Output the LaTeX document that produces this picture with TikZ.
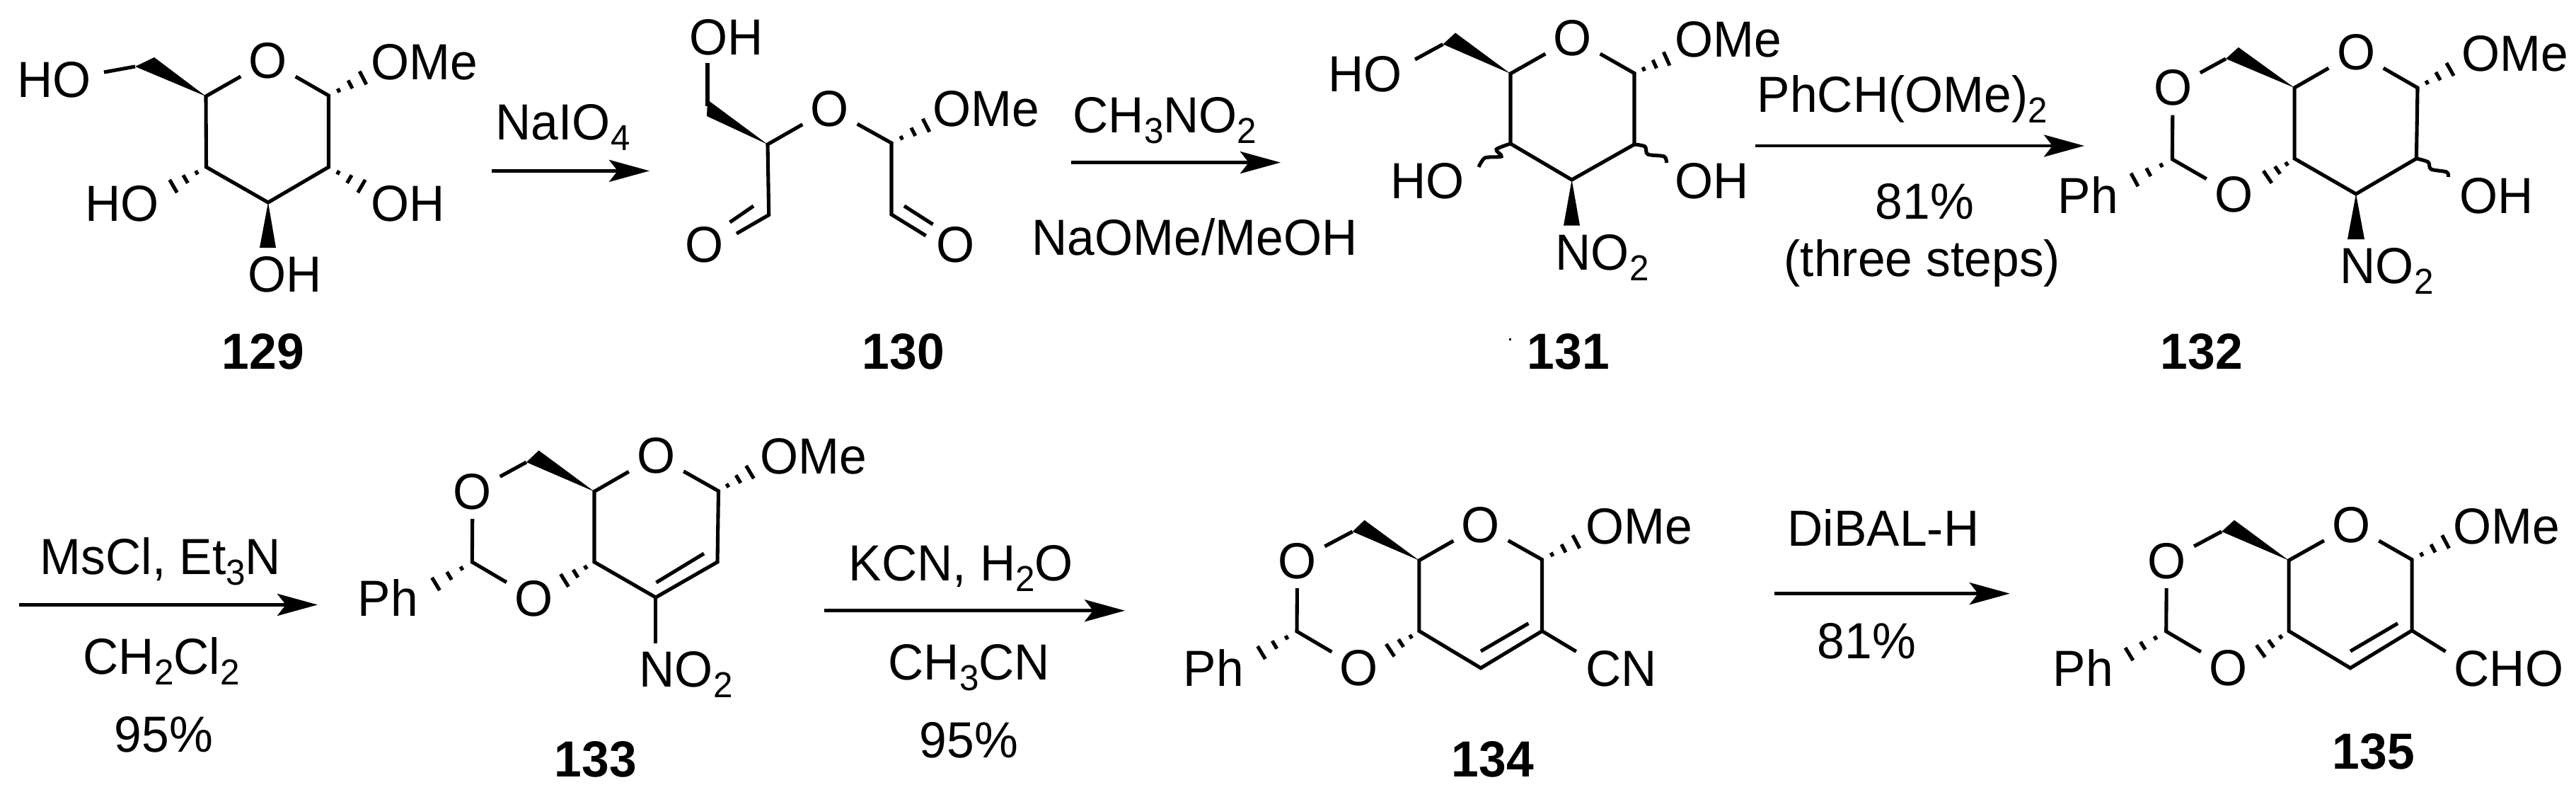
\documentclass[tikz,border=0pt]{standalone}
\usepackage{fontspec}
\setmainfont[FakeStretch=.97]{Liberation Sans}
\usetikzlibrary{arrows.meta,calc}

\tikzset{
	bond/.style={line width=1.45pt},
	rxn/.style={line width=1.4pt,-{Stealth[length=.57cm,width=.31cm,inset=.12cm]}},
	atom/.style={anchor=base west,inner sep=0pt},
	oatom/.style={rectangle,minimum size=.76cm,inner sep=0pt},
	cmpd/.style={atom,font=\fontsize{20.4}{24}\selectfont\bfseries}
}
\newcommand{\sbs}[1]{\raisebox{-4.3pt}{\fontsize{14.5}{14.5}\selectfont #1}}
\newcommand{\hashbond}[2]{%
	\foreach \f/\w in {.29/.03,.63/.065,1/.105} {
		\coordinate (hp) at ($(#1)!\f!(#2)$);
		\draw[bond] ($(hp)!\w cm!90:(#1)$) -- ($(hp)!\w cm!-90:(#1)$);
	}}

\begin{document}
\begin{tikzpicture}[font=\fontsize{20.4}{24}\selectfont]
	\useasboundingbox (0,0) rectangle (36.41,-11.25);
	% 129
		\coordinate (a1) at (4.645,-1.35); \coordinate (a2) at (4.645,-2.36); \coordinate (a3) at (3.79,-2.86);
		\coordinate (a4) at (2.915,-2.36); \coordinate (a5) at (2.91,-1.36);
		\coordinate (a6) at (1.91,-.94); \coordinate (a7) at (1.47,-1.02);
		\coordinate (ah1) at (5.13,-1.10); \coordinate (ah2) at (5.11,-2.63); \coordinate (ah4) at (2.45,-2.63);
		\node[oatom] (aO) at (3.79,-.86) {O};
		\node[atom] (aOMe) at (5.24,-1.125) {OMe};
		\node[atom] (aHO6) at (.24,-1.375) {HO};
		\node[atom] (aHO4) at (1.20,-3.125) {HO};
		\node[atom] (aOH2) at (5.24,-3.125) {OH};
		\node[atom] (aOH3) at (3.50,-4.125) {OH};
		\node[cmpd] (a129) at (3.13,-5.21) {129};
		\draw[bond] (aO) -- (a5) -- (a4) -- (a3) -- (a2) -- (a1) -- (aO);
		\draw[bond] (a7) -- (a6);
		\fill (a5) -- (2.18,-.81) -- (a6) -- cycle;
		\fill (a3) -- (3.67,-3.50) -- (3.90,-3.50) -- cycle;
		\hashbond{a1}{ah1} \hashbond{a2}{ah2} \hashbond{a4}{ah4}
	% NaIO4
		\coordinate (r1a) at (6.95,-2.414); \coordinate (r1b) at (9.18,-2.414);
		\draw[rxn] (r1a) -- (r1b);
		\node[atom] (naio) at (7.00,-1.975) {NaIO\sbs{4}};
	% 130
		\coordinate (b1) at (12.60,-2.02); \coordinate (b2) at (12.60,-3.03); \coordinate (b3) at (13.087,-3.33);
		\coordinate (b4) at (12.78,-2.91); \coordinate (b5) at (13.186,-3.17);
		\coordinate (b6) at (10.85,-2.04); \coordinate (b7) at (10.867,-3.036); \coordinate (b8) at (10.41,-3.30);
		\coordinate (b9) at (10.65,-2.91); \coordinate (b10) at (10.316,-3.14);
		\coordinate (b11) at (10.00,-.89); \coordinate (b12) at (10.00,-1.50);
		\coordinate (bh1) at (13.09,-1.77);
		\node[oatom] (bO) at (11.73,-1.536) {O};
		\node[atom] (bOH) at (9.74,-.77) {OH};
		\node[oatom] (bO1) at (9.96,-3.46) {O};
		\node[oatom] (bO2) at (13.51,-3.46) {O};
		\node[atom] (bOMe) at (13.18,-1.78) {OMe};
		\node[cmpd] (b130) at (12.18,-5.21) {130};
		\draw[bond] (b11) -- (b12);
		\fill (b6) -- (10.00,-1.41) -- (9.99,-1.64) -- cycle;
		\draw[bond] (bO) -- (b6) -- (b7) -- (b8);
		\draw[bond] (b9) -- (b10);
		\draw[bond] (bO) -- (b1) -- (b2) -- (b3);
		\draw[bond] (b4) -- (b5);
		\hashbond{b1}{bh1}
	% CH3NO2
		\coordinate (r2a) at (15.14,-2.296); \coordinate (r2b) at (18.10,-2.296);
		\draw[rxn] (r2a) -- (r2b);
		\node[atom] (nitro) at (15.16,-1.87) {CH\sbs{3}NO\sbs{2}};
		\node[atom] (naome) at (14.58,-3.60) {NaOMe/MeOH};
	% 131
		\coordinate (c1) at (23.10,-1.035); \coordinate (c2) at (23.10,-2.04); \coordinate (c3) at (22.216,-2.54);
		\coordinate (c4) at (21.35,-2.03); \coordinate (c5) at (21.35,-1.04);
		\coordinate (c6) at (20.395,-.625); \coordinate (c7) at (20.00,-.84);
		\coordinate (ch1) at (23.556,-.83); \coordinate (cw2) at (23.556,-2.30); \coordinate (cw4) at (20.90,-2.36);
		\node[oatom] (cO) at (22.23,-.54) {O};
		\node[atom] (cHO6) at (18.77,-1.29) {HO};
		\node[atom] (cHO4) at (19.65,-2.80) {HO};
		\node[atom] (cOMe) at (23.67,-.80) {OMe};
		\node[atom] (cOH2) at (23.67,-2.80) {OH};
		\node[atom] (cNO) at (21.98,-3.815) {NO\sbs{2}};
		\node[cmpd] (c131) at (21.58,-5.21) {131};
		\draw[bond] (cO) -- (c5) -- (c4) -- (c3) -- (c2) -- (c1) -- (cO);
		\draw[bond] (c7) -- (c6);
		\fill (c5) -- (20.57,-.464) -- (c6) -- cycle;
		\fill (c3) -- (22.10,-3.186) -- (22.33,-3.186) -- cycle;
		\hashbond{c1}{ch1}
		\draw[bond] plot[smooth] coordinates {(c4) (21.15,-2.11) (21.22,-2.21) (20.99,-2.23) (cw4)};
		\draw[bond] plot[smooth] coordinates {(c2) (23.25,-2.07) (23.29,-2.18) (23.52,-2.21) (cw2)};
		\fill (21.33,-4.78) rectangle ++(.03,-.03);
	% PhCH(OMe)2
		\coordinate (r3a) at (24.81,-2.06); \coordinate (r3b) at (29.46,-2.06);
		\draw[rxn] (r3a) -- (r3b);
		\node[atom] (phch) at (24.83,-1.58) {PhCH(OMe)\sbs{2}};
		\node[atom] (y3) at (26.50,-3.09) {81\%};
		\node[atom] (steps) at (25.21,-3.90) {(three steps)};
	% 132
		\coordinate (d1) at (34.17,-1.24); \coordinate (d2) at (34.154,-2.24); \coordinate (d3) at (33.30,-2.74);
		\coordinate (d4) at (32.43,-2.24); \coordinate (d5) at (32.43,-1.24);
		\coordinate (d6) at (31.46,-.83); \coordinate (d7) at (30.704,-2.25);
		\coordinate (dh1) at (34.63,-.98); \coordinate (dw2) at (34.605,-2.50);
		\coordinate (dh4) at (32.05,-2.50); \coordinate (dh7) at (30.17,-2.54);
		\node[oatom] (dO) at (33.30,-.74) {O};
		\node[oatom] (dO1) at (30.71,-1.24) {O};
		\node[oatom] (dO2) at (31.574,-2.75) {O};
		\node[atom] (dPh) at (29.08,-3.01) {Ph};
		\node[atom] (dOMe) at (34.79,-1.00) {OMe};
		\node[atom] (dOH) at (34.76,-3.01) {OH};
		\node[atom] (dNO) at (33.07,-4.007) {NO\sbs{2}};
		\node[cmpd] (d132) at (30.53,-5.21) {132};
		\draw[bond] (dO) -- (d5) -- (d4) -- (d3) -- (d2) -- (d1) -- (dO);
		\draw[bond] (dO1) -- (d6);
		\draw[bond] (dO1) -- (d7) -- (dO2);
		\fill (d5) -- (31.638,-.668) -- (d6) -- cycle;
		\fill (d3) -- (33.18,-3.38) -- (33.42,-3.38) -- cycle;
		\hashbond{d1}{dh1} \hashbond{d4}{dh4} \hashbond{d7}{dh7}
		\draw[bond] plot[smooth] coordinates {(d2) (34.32,-2.29) (34.36,-2.39) (34.58,-2.43) (dw2)};
	% MsCl
		\coordinate (r4a) at (.27,-8.544); \coordinate (r4b) at (4.49,-8.544);
		\draw[rxn] (r4a) -- (r4b);
		\node[atom] (mscl) at (.56,-8.115) {MsCl, Et\sbs{3}N};
		\node[atom] (dcm) at (1.17,-9.528) {CH\sbs{2}Cl\sbs{2}};
		\node[atom] (y4) at (1.61,-10.627) {95\%};
	% 133
		\coordinate (e1) at (10.155,-6.937); \coordinate (e2) at (10.14,-7.94); \coordinate (e3) at (9.268,-8.44);
		\coordinate (e4) at (8.40,-7.94); \coordinate (e5) at (8.40,-6.944);
		\coordinate (e6) at (7.44,-6.53); \coordinate (e7) at (6.673,-7.94);
		\coordinate (e8) at (9.95,-7.82); \coordinate (e9) at (9.275,-8.23);
		\coordinate (eh1) at (10.60,-6.67); \coordinate (eh4) at (7.98,-8.20); \coordinate (eh7) at (6.16,-8.25);
		\coordinate (eN) at (9.268,-9.09);
		\node[oatom] (eO) at (9.275,-6.44) {O};
		\node[oatom] (eO1) at (6.68,-6.944) {O};
		\node[oatom] (eO2) at (7.546,-8.454) {O};
		\node[atom] (ePh) at (5.05,-8.706) {Ph};
		\node[atom] (eOMe) at (10.735,-6.69) {OMe};
		\node[atom] (eNO) at (9.03,-9.708) {NO\sbs{2}};
		\node[cmpd] (e133) at (7.83,-10.976) {133};
		\draw[bond] (eO) -- (e5) -- (e4) -- (e3) -- (e2) -- (e1) -- (eO);
		\draw[bond] (e8) -- (e9);
		\draw[bond] (e3) -- (eN);
		\draw[bond] (eO1) -- (e6);
		\draw[bond] (eO1) -- (e7) -- (eO2);
		\fill (e5) -- (7.615,-6.364) -- (e6) -- cycle;
		\hashbond{e1}{eh1} \hashbond{e4}{eh4} \hashbond{e7}{eh7}
	% KCN
		\coordinate (r5a) at (11.65,-8.627); \coordinate (r5b) at (15.90,-8.627);
		\draw[rxn] (r5a) -- (r5b);
		\node[atom] (kcn) at (11.99,-8.20) {KCN, H\sbs{2}O};
		\node[atom] (mecn) at (12.55,-9.607) {CH\sbs{3}CN};
		\node[atom] (y5) at (12.99,-10.706) {95\%};
	% 134
		\coordinate (f1) at (21.796,-7.906); \coordinate (f2) at (21.796,-8.915); \coordinate (f3) at (20.93,-9.438);
		\coordinate (f4) at (20.059,-8.915); \coordinate (f5) at (20.059,-7.917);
		\coordinate (f6) at (19.117,-7.51); \coordinate (f7) at (18.33,-8.92);
		\coordinate (f8) at (21.604,-8.807); \coordinate (f9) at (20.93,-9.20);
		\coordinate (fh1) at (22.278,-7.654); \coordinate (fh4) at (19.65,-9.186); \coordinate (fh7) at (17.83,-9.22);
		\coordinate (fC) at (22.278,-9.204);
		\node[oatom] (fO) at (20.93,-7.42) {O};
		\node[oatom] (fO1) at (18.337,-7.924) {O};
		\node[oatom] (fO2) at (19.21,-9.438) {O};
		\node[atom] (fPh) at (16.72,-9.69) {Ph};
		\node[atom] (fOMe) at (22.41,-7.68) {OMe};
		\node[atom] (fCN) at (22.41,-9.69) {CN};
		\node[cmpd] (f134) at (20.51,-10.976) {134};
		\draw[bond] (fO) -- (f5) -- (f4) -- (f3) -- (f2) -- (f1) -- (fO);
		\draw[bond] (f8) -- (f9);
		\draw[bond] (f2) -- (fC);
		\draw[bond] (fO1) -- (f6);
		\draw[bond] (fO1) -- (f7) -- (fO2);
		\fill (f5) -- (19.285,-7.348) -- (f6) -- cycle;
		\hashbond{f1}{fh1} \hashbond{f4}{fh4} \hashbond{f7}{fh7}
	% DiBAL-H
		\coordinate (r6a) at (25.084,-8.386); \coordinate (r6b) at (28.408,-8.386);
		\draw[rxn] (r6a) -- (r6b);
		\node[atom] (dibal) at (25.26,-7.715) {DiBAL-H};
		\node[atom] (y6) at (25.68,-9.30) {81\%};
	% 135
		\coordinate (g1) at (34.09,-7.906); \coordinate (g2) at (34.09,-8.908); \coordinate (g3) at (33.22,-9.438);
		\coordinate (g4) at (32.35,-8.915); \coordinate (g5) at (32.35,-7.917);
		\coordinate (g6) at (31.40,-7.51); \coordinate (g7) at (30.617,-8.92);
		\coordinate (g8) at (33.89,-8.807); \coordinate (g9) at (33.22,-9.20);
		\coordinate (gh1) at (34.566,-7.654); \coordinate (gh4) at (31.954,-9.20); \coordinate (gh7) at (30.094,-9.24);
		\coordinate (gC) at (34.566,-9.204);
		\node[oatom] (gO) at (33.236,-7.42) {O};
		\node[oatom] (gO1) at (30.624,-7.924) {O};
		\node[oatom] (gO2) at (31.495,-9.438) {O};
		\node[atom] (gPh) at (29.01,-9.69) {Ph};
		\node[atom] (gOMe) at (34.67,-7.68) {OMe};
		\node[atom] (gCHO) at (34.68,-9.69) {CHO};
		\node[cmpd] (g135) at (32.96,-10.868) {135};
		\draw[bond] (gO) -- (g5) -- (g4) -- (g3) -- (g2) -- (g1) -- (gO);
		\draw[bond] (g8) -- (g9);
		\draw[bond] (g2) -- (gC);
		\draw[bond] (gO1) -- (g6);
		\draw[bond] (gO1) -- (g7) -- (gO2);
		\fill (g5) -- (31.58,-7.348) -- (g6) -- cycle;
		\hashbond{g1}{gh1} \hashbond{g4}{gh4} \hashbond{g7}{gh7}
\end{tikzpicture}
\end{document}
